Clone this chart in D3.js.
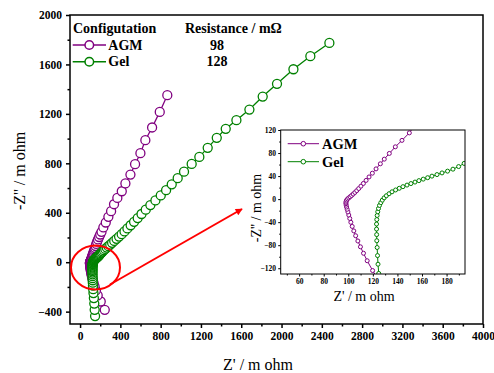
<!DOCTYPE html>
<html>
<head>
<meta charset="utf-8">
<script src="https://cdn.jsdelivr.net/npm/d3@7"></script>
<style>
  body { margin: 0; background: #fff }
  svg { display: block }
  text { font-family: "Liberation Serif", "Times New Roman", serif }
</style>
</head>
<body>
<svg id="chart" width="494" height="373"></svg>
<script>
// legend / series info
const seriesNames = ["AGM", "Gel"]
const resistances = [98, 128]
const seriesColors = ["#800080", "#008000"]

// [Z', -Z''] in m ohm (inductive tail -> Warburg tail)
const agmData = [
  [245,-385],[205,-318],[175,-268],[157,-228],[144,-195],[134,-168],[126,-145],
  [119.8,-124],[115.4,-107],[112.4,-94],[109.9,-82.8],[107.8,-72.7],[106,-63.6],[104.5,-55.2],
  [103.2,-47.4],[102.1,-40.2],[101.2,-33.6],[100.4,-27.6],[99.7,-22.2],[99.1,-17.6],[98.6,-13.8],
  [98.3,-10.6],[98.1,-8],[98.1,-5.7],[98.3,-3.6],[98.7,-1.6],[99.4,0.3],[100.4,2.1],[101.5,4.1],
  [102.7,6.3],[104,8.8],[105.4,11.6],[106.9,14.8],[108.5,18.4],[110.3,22.5],[112.3,27.2],
  [114.5,32.5],[116.9,38.5],[119.6,45],[122.6,52.5],[126.1,61.3],[129.3,69.4],[133.4,79.3],
  [138.3,90.8],[143.7,102],[149.7,115],
  [155,131],[161,148],[169,166],[178,184],[189,204],[200,224],[213,246],[231,281],[255,321],
  [281,367],[308,413],[337,469],[370,520],[414,574],[450,637],[500,709],[546,793],[599,882],
  [648,987],[715,1090],[791,1216],[866,1351]
]
const gelData = [
  [149,-436],[145,-385],[141,-335],[137,-290],[133,-250],[130,-218],[128,-190],[126.5,-166],[125.5,-146],
  [124.8,-129],[124.2,-113],[123.8,-98],[123.5,-84],[123.2,-72.2],[123.1,-61.6],[123,-52],[123,-43.3],
  [123.2,-35.5],[123.5,-28.4],[124,-22],[124.6,-16.3],[125.4,-11],[126.5,-6.2],[127.7,-1.8],[129.2,2.2],
  [131,5.9],[133.2,9.4],[135.6,12.7],[138.5,15.9],[141.5,18.8],[144.5,21.6],[147.8,24.4],[151,27],
  [154.3,29.6],[157.5,32.1],[161,34.7],[164.6,37.2],[168.1,39.9],[172.2,42.6],[176.3,45.5],[180.8,48.6],
  [185.2,52],[189.8,56.5],[194.3,62],
  [200,67],[207,73],[215,80],[225,88],[237,97],[250,107],[265,118],[281,130],[299,143],[318,157],
  [339,172],[362,189],[387,207],[413,227],[441,249],[470,273],[502,299],[536,327],[572,357],[610,390],
  [652,425],[698,462],[748,500],[801,540],[854,583],[910,630],[969,680],[1032,732],[1108,795],
  [1184,852],[1267,925],[1357,1006],[1446,1079],[1552,1149],[1681,1235],[1813,1340],[1955,1443],
  [2118,1561],[2286,1667],[2475,1774]
]
const allSeries = [agmData, gelData]

// tick values
const mainXTicks = [0,400,800,1200,1600,2000,2400,2800,3200,3600,4000]
const mainXMinor = [200,600,1000,1400,1800,2200,2600,3000,3400,3800]
const mainYTicks = [-400,0,400,800,1200,1600,2000]
const mainYMinor = [-200,200,600,1000,1400,1800]
const insetXTicks = [60,80,100,120,140,160,180]
const insetXMinor = [50,70,90,110,130,150,170,190]
const insetYTicks = [-120,-80,-40,0,40,80,120]
const insetYMinor = [-100,-60,-20,20,60,100]

const svg = d3.select("#chart")
const fmt = d3.format("d")

function drawPanel(g, x, y, o) {
  const [x0, x1] = x.range(), [y0, y1] = y.range()
  const axX = g.append("g").attr("transform", `translate(0,${y0})`)
    .call(d3.axisBottom(x).tickValues(o.xTicks).tickFormat(fmt).tickSize(o.major).tickSizeOuter(0).tickPadding(o.pad))
  const axXm = g.append("g").attr("transform", `translate(0,${y0})`)
    .call(d3.axisBottom(x).tickValues(o.xMinor).tickSize(o.minor).tickSizeOuter(0).tickFormat(""))
  const axY = g.append("g").attr("transform", `translate(${x0},0)`)
    .call(d3.axisLeft(y).tickValues(o.yTicks).tickFormat(fmt).tickSize(o.major).tickSizeOuter(0).tickPadding(o.pad))
  const axYm = g.append("g").attr("transform", `translate(${x0},0)`)
    .call(d3.axisLeft(y).tickValues(o.yMinor).tickSize(o.minor).tickSizeOuter(0).tickFormat(""))
  ;[axX, axXm, axY, axYm].forEach(a => {
    a.attr("font-family", null).attr("font-size", null)
    a.select(".domain").remove()
    a.selectAll("line").attr("stroke", "#000").attr("stroke-width", o.frame)
    a.selectAll("text").style("font-family", "'Liberation Serif', serif").attr("font-weight", "bold")
      .attr("font-size", o.tickFont).attr("fill", "#000")
  })
  const clipId = "clip" + o.name
  g.append("clipPath").attr("id", clipId).append("rect")
    .attr("x", x0).attr("y", y1).attr("width", x1 - x0).attr("height", y0 - y1)
  const plot = g.append("g").attr("clip-path", `url(#${clipId})`)
  const line = d3.line().x(d => x(d[0])).y(d => y(d[1]))
  allSeries.forEach((data, i) => {
    const s = plot.append("g")
    s.append("path").datum(data).attr("d", line).attr("fill", "none")
      .attr("stroke", seriesColors[i]).attr("stroke-width", o.lw)
    s.selectAll("circle").data(data).join("circle")
      .attr("cx", d => x(d[0])).attr("cy", d => y(d[1])).attr("r", o.r)
      .attr("fill", "#fff").attr("stroke", seriesColors[i]).attr("stroke-width", o.lw)
  })
  g.append("rect").attr("x", x0).attr("y", y1).attr("width", x1 - x0).attr("height", y0 - y1)
    .attr("fill", "none").attr("stroke", "#000").attr("stroke-width", o.frame)
}

// main panel
const mx = d3.scaleLinear().domain([-100, 4000]).range([70, 483])
const my = d3.scaleLinear().domain([-500, 2000]).range([324, 15])
drawPanel(svg.append("g"), mx, my, {
  name: "main", xTicks: mainXTicks, xMinor: mainXMinor, yTicks: mainYTicks, yMinor: mainYMinor,
  major: 4, minor: 2.5, pad: 4, tickFont: 11.5, frame: 1.5, r: 4.5, lw: 1.3
})
svg.append("text").attr("x", 258).attr("y", 370).attr("text-anchor", "middle")
  .attr("font-size", 16).text("Z' / m ohm")
svg.append("text").attr("transform", "translate(25,171) rotate(-90)").attr("text-anchor", "middle")
  .attr("font-size", 16).text("-Z'' / m ohm")

// main legend
const leg = svg.append("g").attr("font-weight", "bold").attr("font-size", 14)
leg.append("text").attr("x", 73).attr("y", 33).text("Configutation")
leg.append("text").attr("x", 185).attr("y", 33).text("Resistance / m\u03A9")
seriesNames.forEach((n, i) => {
  const yy = 45 + i * 16.7
  leg.append("line").attr("x1", 72.7).attr("x2", 106).attr("y1", yy).attr("y2", yy)
    .attr("stroke", seriesColors[i]).attr("stroke-width", 1.5)
  leg.append("circle").attr("cx", 89.3).attr("cy", yy).attr("r", 4.3)
    .attr("fill", "#fff").attr("stroke", seriesColors[i]).attr("stroke-width", 1.5)
  leg.append("text").attr("x", 108.3).attr("y", yy + 4.5).text(n)
  leg.append("text").attr("x", 217).attr("y", yy + 4.5).attr("text-anchor", "middle").text(resistances[i])
})

// zoom marker: ellipse + arrow
svg.append("defs").append("marker").attr("id", "arrow").attr("viewBox", "0 0 10 10")
  .attr("refX", 9).attr("refY", 5).attr("markerWidth", 9).attr("markerHeight", 7)
  .attr("markerUnits", "userSpaceOnUse").attr("orient", "auto")
  .append("path").attr("d", "M0,0L10,5L0,10z").attr("fill", "#f00")
svg.append("ellipse").attr("cx", 95.5).attr("cy", 267.5).attr("rx", 24.5).attr("ry", 22)
  .attr("fill", "none").attr("stroke", "#f00").attr("stroke-width", 2)
svg.append("line").attr("x1", 110).attr("y1", 284.5).attr("x2", 242).attr("y2", 209)
  .attr("stroke", "#f00").attr("stroke-width", 2).attr("marker-end", "url(#arrow)")

// inset panel
const ix = d3.scaleLinear().domain([45, 195]).range([280.7, 465])
const iy = d3.scaleLinear().domain([-130, 120]).range([274, 130])
const inset = svg.append("g")
inset.append("rect").attr("x", 280.7).attr("y", 130).attr("width", 184.3).attr("height", 144).attr("fill", "#fff")
drawPanel(inset, ix, iy, {
  name: "inset", xTicks: insetXTicks, xMinor: insetXMinor, yTicks: insetYTicks, yMinor: insetYMinor,
  major: 2.5, minor: 1.5, pad: 2.2, tickFont: 7.5, frame: 1, r: 2, lw: 1
})
inset.append("text").attr("x", 364).attr("y", 300.5).attr("text-anchor", "middle")
  .attr("font-size", 14).text("Z' / m ohm")
inset.append("text").attr("transform", "translate(261,208) rotate(-90)").attr("text-anchor", "middle")
  .attr("font-size", 14).text("-Z'' / m ohm")
const ileg = inset.append("g").attr("font-weight", "bold").attr("font-size", 14.5)
seriesNames.forEach((n, i) => {
  const yy = 143.7 + i * 18
  ileg.append("line").attr("x1", 287.7).attr("x2", 319).attr("y1", yy).attr("y2", yy)
    .attr("stroke", seriesColors[i]).attr("stroke-width", 1)
  ileg.append("circle").attr("cx", 303.3).attr("cy", yy).attr("r", 2.3)
    .attr("fill", "#fff").attr("stroke", seriesColors[i]).attr("stroke-width", 1)
  ileg.append("text").attr("x", 322).attr("y", yy + 4.8).text(n)
})
</script>
</body>
</html>
